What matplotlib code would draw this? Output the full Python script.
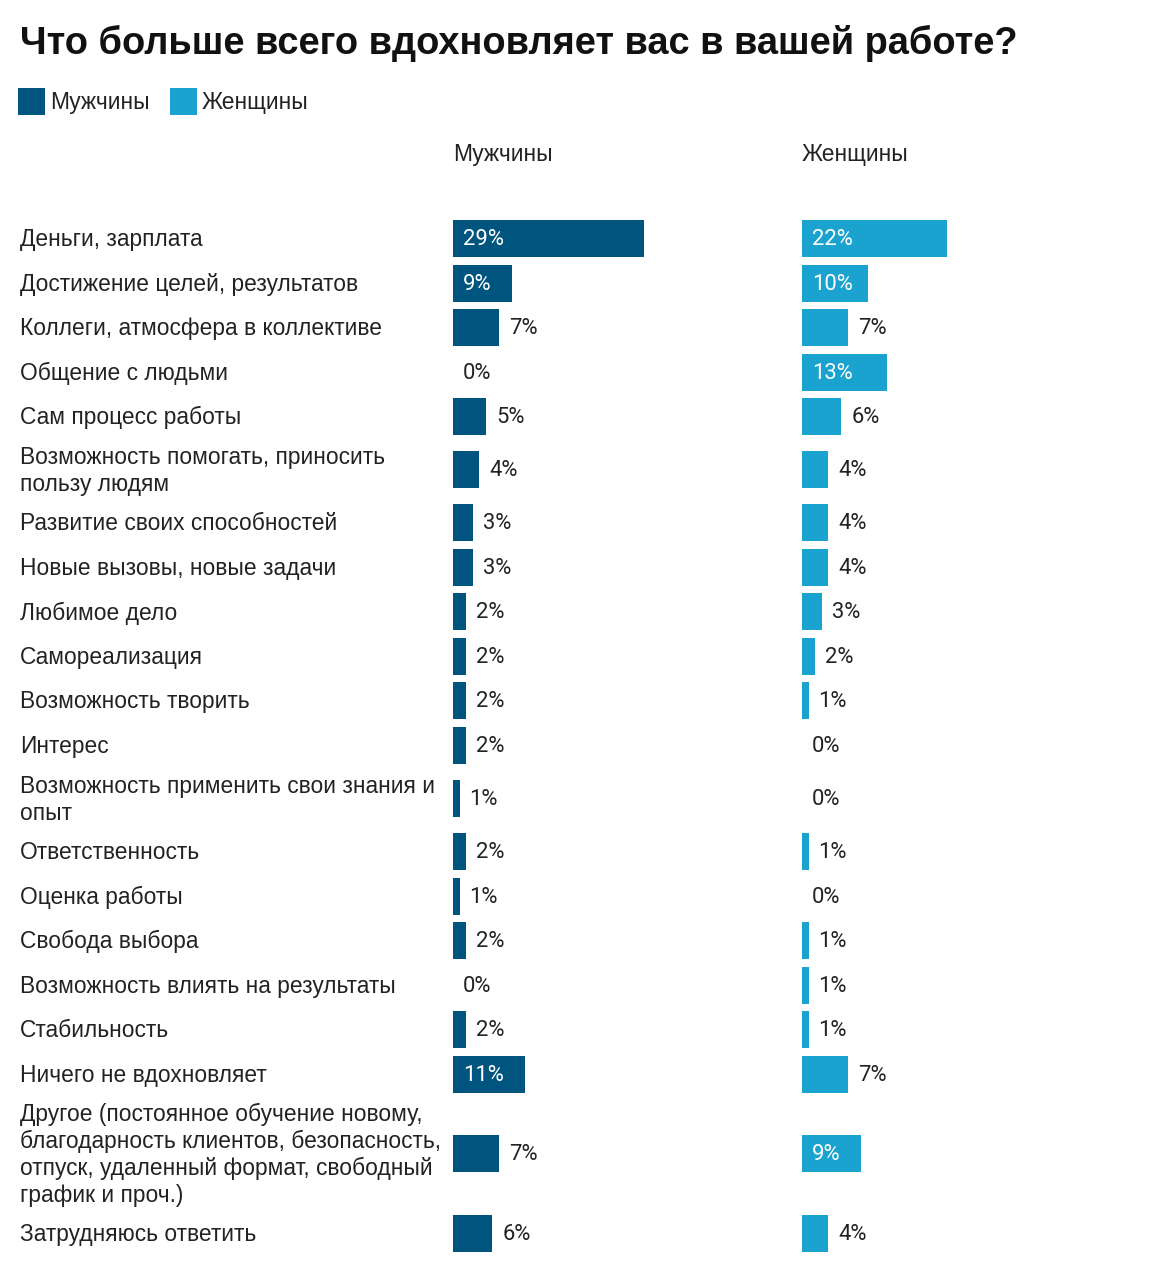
"""
Горизонтальные столбики: что вдохновляет в работе (мужчины / женщины).
"""
import matplotlib
matplotlib.use("Agg")
import matplotlib.pyplot as plt
import numpy as np

categories = [
    "Деньги, зарплата",
    "Достижение целей, результатов",
    "Коллеги, атмосфера в коллективе",
    "Общение с людьми",
    "Сам процесс работы",
    "Возможность помогать, приносить\nпользу людям",
    "Развитие своих способностей",
    "Новые вызовы, новые задачи",
    "Любимое дело",
    "Самореализация",
    "Возможность творить",
    "Интерес",
    "Возможность применить свои знания и\nопыт",
    "Ответственность",
    "Оценка работы",
    "Свобода выбора",
    "Возможность влиять на результаты",
    "Стабильность",
    "Ничего не вдохновляет",
    "Другое (постоянное обучение новому,\nблагодарность клиентов, безопасность,\nотпуск, удаленный формат, свободный\nграфик и проч.)",
    "Затрудняюсь ответить",
]
men = [29, 9, 7, 0, 5, 4, 3, 3, 2, 2, 2, 2, 1, 2, 1, 2, 0, 2, 11, 7, 6]
women = [22, 10, 7, 13, 6, 4, 4, 4, 3, 2, 1, 0, 0, 1, 0, 1, 1, 1, 7, 9, 4]
series_names = ["Мужчины", "Женщины"]

title = "Что больше всего вдохновляет вас в вашей работе?"
colors = ["#00557f", "#1aa3cf"]

W, H = 1151, 1280
fig = plt.figure(figsize=(W / 100, H / 100), dpi=100)
fig.patch.set_facecolor("white")

# фон для текста в пиксельных координатах
bg = fig.add_axes([0, 0, 1, 1])
bg.set_xlim(0, W)
bg.set_ylim(H, 0)
bg.axis("off")

label_font = "Liberation Sans"
num_font = "Roboto"
fs = 16.4

# высота строки зависит от числа строк подписи
n_lines = np.array([c.count("\n") + 1 for c in categories])
row_h = np.maximum(44.5, 26.7 * n_lines + 8.3)
top = 238.8 - 22.3
centers = top + np.cumsum(row_h) - row_h / 2

bg.text(20, 43, title, fontsize=27.4, fontweight="bold", family=label_font,
        color="#111111", va="center", ha="left")

# легенда
for x0, name, col in zip([18, 170], series_names, colors):
    bg.add_patch(plt.Rectangle((x0, 88), 27, 27, color=col, lw=0))
    bg.text(x0 + 32, 102, name, fontsize=fs, family=label_font,
            color="#222222", va="center")

for y, lab in zip(centers, categories):
    bg.text(20, y + 1, lab, fontsize=fs, family=label_font, color="#222222",
            va="center", ha="left", linespacing=1.22)

scale = 6.57  # пикселей на процент
col_left = [453, 802]
col_w = 320
for left, name, vals, col in zip(col_left, series_names, [men, women], colors):
    bg.text(left, 154, name, fontsize=fs, family=label_font,
            color="#222222", va="center", ha="left")
    ax = fig.add_axes([left / W, 0, col_w / W, 1])
    ax.set_xlim(0, col_w / scale)
    ax.set_ylim(H, 0)
    ax.axis("off")
    ax.barh(centers, vals, height=37, color=col, lw=0)
    for y, v in zip(centers, vals):
        if v >= 9:
            ax.annotate(f"{v}%", (0, y + 1), xytext=(10, 0), textcoords="offset pixels",
                        va="center", ha="left", fontsize=15.8, family=num_font,
                        color="white")
        else:
            ax.annotate(f"{v}%", (v, y + 1), xytext=(10, 0), textcoords="offset pixels",
                        va="center", ha="left", fontsize=15.8, family=num_font,
                        color="#222222")

fig.savefig("out.png", dpi=100, facecolor="white")
